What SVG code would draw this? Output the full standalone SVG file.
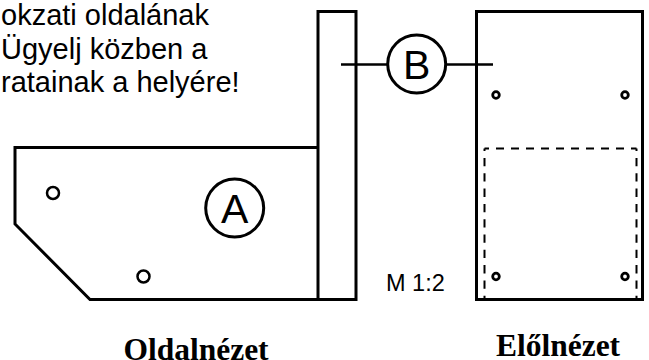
<svg xmlns="http://www.w3.org/2000/svg" width="649" height="360" viewBox="0 0 649 360">
<style>
.l{fill:none;stroke:#000;stroke-width:3}
.h{fill:#fff;stroke:#000;stroke-width:2.5}
.s{fill:#fff;stroke:#000;stroke-width:2.800}
.c{fill:#fff;stroke:#000;stroke-width:3}
.d{fill:none;stroke:#000;stroke-width:2}
.t{font-family:"Liberation Sans",Arial,sans-serif;fill:#000}
.b{font-family:"Liberation Serif","Times New Roman",serif;font-weight:bold;font-size:31.500px;fill:#000}
</style>
<rect width="649" height="360" fill="#fff"/>
<text class="t" font-size="29" x="1" y="24.500">okzati oldalának</text>
<text class="t" font-size="29" x="1" y="58.500">Ügyelj közben a</text>
<text class="t" font-size="29" x="1" y="92">ratainak a helyére!</text>
<g id="side-view">
<path class="l" d="M318 299.500V11.500H356V299.500H90L15 224V147.500H318"/>
<circle class="h" cx="53" cy="193" r="6"/>
<circle class="h" cx="143.500" cy="276.500" r="6"/>
</g>
<g id="front-view">
<path class="d" d="M484.500 148.500H636.500" stroke-dasharray="8 7" stroke-dashoffset="3.500"/>
<path class="d" d="M484.500 148.500V299M636.500 148.500V299" stroke-dasharray="8.300 7" stroke-dashoffset="5.800"/>
<rect class="l" x="476.500" y="11.500" width="166" height="288"/>
<circle class="s" cx="496" cy="95" r="3.300"/>
<circle class="s" cx="625" cy="95" r="3.300"/>
<circle class="s" cx="496" cy="276.500" r="3.300"/>
<circle class="s" cx="625" cy="276.500" r="3.300"/>
</g>
<g id="connectors">
<path d="M341 64.500H387M446 64.500H493" fill="none" stroke="#000" stroke-width="2.500"/>
</g>
<g id="node-b">
<circle class="c" cx="416.700" cy="64" r="29"/>
<text class="t" font-size="41" x="416.700" y="79" text-anchor="middle">B</text>
</g>
<g id="node-a">
<circle class="c" cx="234.700" cy="208" r="29"/>
<text class="t" font-size="41" x="234.700" y="223" text-anchor="middle">A</text>
</g>
<text class="t" font-size="23.500" x="386" y="291">M 1:2</text>
<text class="b" x="196" y="359.500" text-anchor="middle">Oldalnézet</text>
<text class="b" x="558" y="356" text-anchor="middle">Előlnézet</text>
</svg>
